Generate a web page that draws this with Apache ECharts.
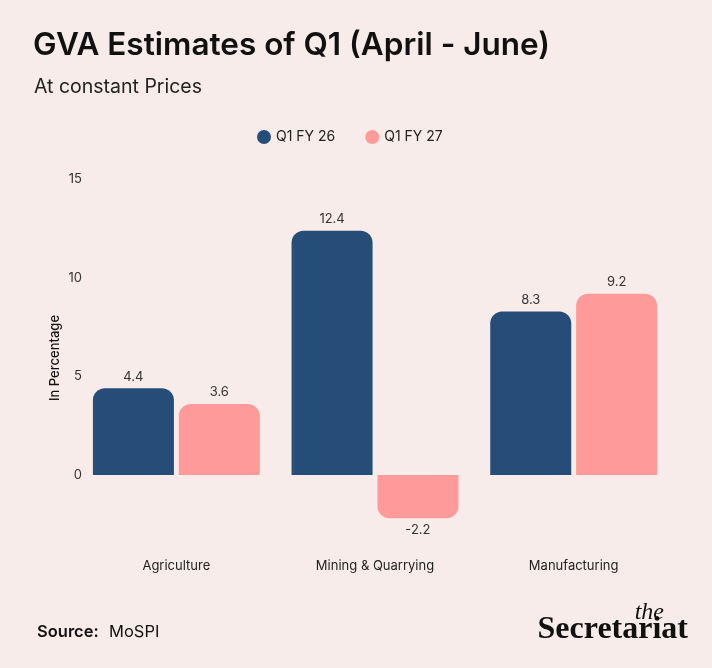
<!DOCTYPE html>
<html>
<head>
<meta charset="utf-8">
<script src="https://cdn.jsdelivr.net/npm/echarts@6/dist/echarts.min.js"></script>
<style>
html,body{margin:0;padding:0;background:#f8ecea;}
#c{width:712px;height:668px;}
</style>
</head>
<body>
<div id="c"></div>
<script>
const categories = ['Agriculture', 'Mining & Quarrying', 'Manufacturing'];
const seriesNames = ['Q1 FY 26', 'Q1 FY 27'];
const q1fy26 = [4.4, 12.4, 8.3];
const q1fy27 = [3.6, -2.2, 9.2];
const yTicks = [0, 5, 10, 15];

const colors = ['#264d78', '#ff9a9a'];
const FONT = 'Inter, "Noto Sans", sans-serif';
const SERIF = '"Liberation Serif", "DejaVu Serif", serif';

function barData(vals) {
  return vals.map(v => ({
    value: v,
    itemStyle: { borderRadius: v < 0 ? [0, 0, 12, 12] : [12, 12, 0, 0] },
    label: { position: v < 0 ? 'bottom' : 'top' }
  }));
}

const chart = echarts.init(document.getElementById('c'), null, { renderer: 'canvas' });
chart.setOption({
  backgroundColor: '#f8ecea',
  animation: false,
  textStyle: { fontFamily: FONT },
  title: [
    { text: 'GVA Estimates of Q1 (April - June)', left: 33, top: 30, padding: 0,
      textStyle: { fontFamily: FONT, fontSize: 31.5, fontWeight: 600, color: '#111' } },
    { text: 'At constant Prices', left: 34, top: 77, padding: 0,
      textStyle: { fontFamily: FONT, fontSize: 19.5, fontWeight: 400, color: '#222' } }
  ],
  legend: {
    data: seriesNames,
    top: 125, left: 252,
    icon: 'circle', itemWidth: 14, itemHeight: 14, itemGap: 30,
    textStyle: { fontFamily: FONT, fontSize: 14, color: '#222' }
  },
  grid: { left: 77, right: 39, top: 179.5, bottom: 94.5, containLabel: false },
  xAxis: {
    type: 'category', data: categories,
    axisLine: { show: false }, axisTick: { show: false },
    axisLabel: { margin: -14, fontFamily: FONT, fontSize: 13, color: '#222' }
  },
  yAxis: {
    type: 'value', min: -5, max: 15, interval: 5,
    splitLine: { show: false }, axisLine: { show: false }, axisTick: { show: false },
    axisLabel: {
      margin: -5, fontFamily: FONT, fontSize: 13, color: '#333',
      formatter: v => (yTicks.indexOf(v) >= 0 ? String(v) : '')
    }
  },
  series: [
    { name: seriesNames[0], type: 'bar', data: barData(q1fy26), color: colors[0],
      barGap: '6%', barCategoryGap: '16%',
      label: { show: true, distance: 5, fontFamily: FONT, fontSize: 13, color: '#333' } },
    { name: seriesNames[1], type: 'bar', data: barData(q1fy27), color: colors[1],
      barGap: '6%', barCategoryGap: '16%',
      label: { show: true, distance: 5, fontFamily: FONT, fontSize: 13, color: '#333' } }
  ],
  graphic: [
    { type: 'text', x: 55, y: 358, rotation: Math.PI / 2,
      style: { text: 'In Percentage', fontFamily: FONT, fontSize: 13, fontWeight: 500, fill: '#111',
               textAlign: 'center', textVerticalAlign: 'middle' } },
    { type: 'text', x: 37, y: 632,
      style: { text: 'Source:', fontFamily: FONT, fontSize: 16.5, fontWeight: 600, fill: '#111',
               textVerticalAlign: 'middle' } },
    { type: 'text', x: 109, y: 632,
      style: { text: 'MoSPI', fontFamily: FONT, fontSize: 16.5, fontWeight: 400, fill: '#111',
               textVerticalAlign: 'middle' } },
    { type: 'text', x: 664, y: 613,
      style: { text: 'the', fontFamily: SERIF, fontSize: 24,
               fontStyle: 'italic', fontWeight: 400, fill: '#111', textAlign: 'right', textVerticalAlign: 'middle' } },
    { type: 'text', x: 688, y: 630,
      style: { text: 'Secretariat', fontFamily: SERIF, fontSize: 32,
               fontWeight: 700, fill: '#111', textAlign: 'right', textVerticalAlign: 'middle' } }
  ]
});
</script>
</body>
</html>
